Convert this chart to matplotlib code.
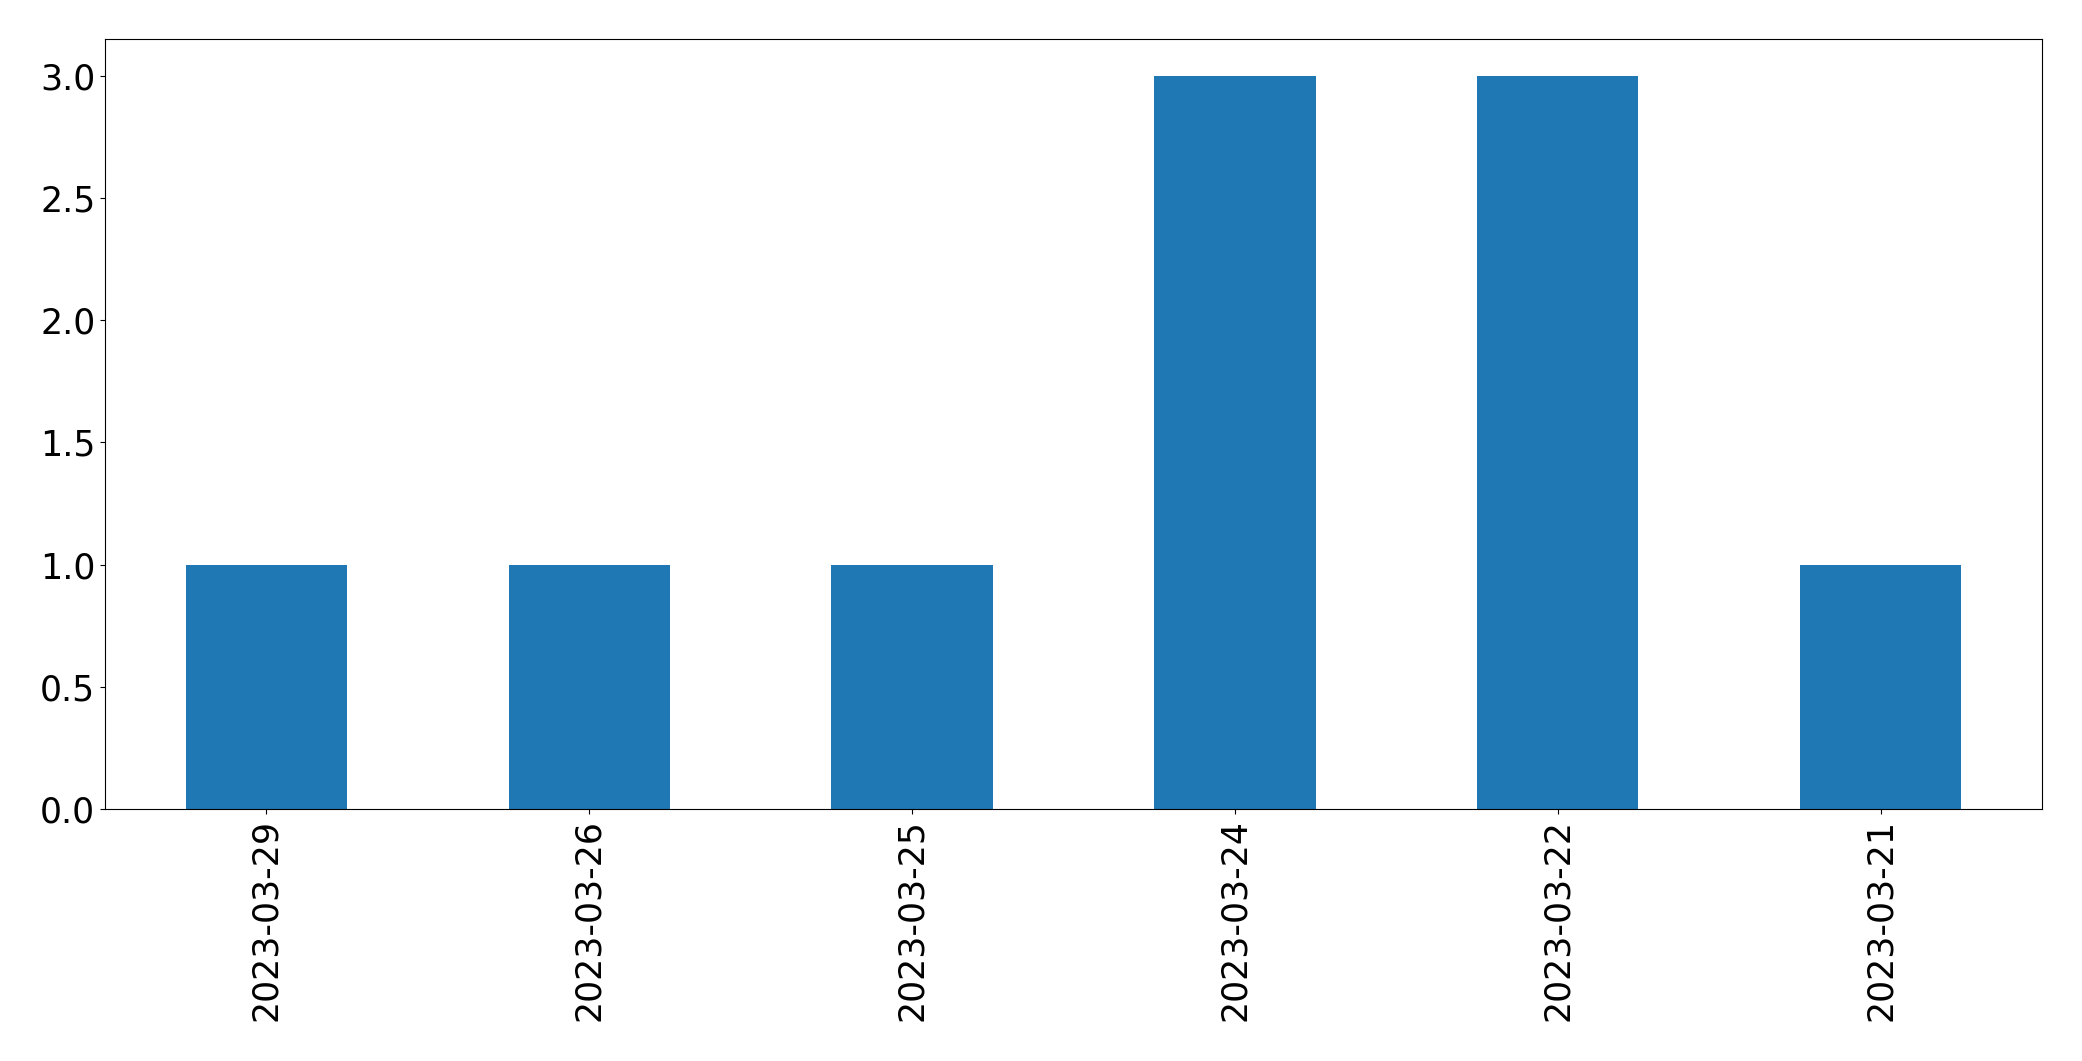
import matplotlib
matplotlib.use("Agg")
import matplotlib.pyplot as plt

dates = ["2023-03-29", "2023-03-26", "2023-03-25", "2023-03-24", "2023-03-22", "2023-03-21"]
counts = [1, 1, 1, 3, 3, 1]

fig = plt.figure(figsize=(20.82, 10.61), dpi=100)
ax = fig.add_axes([105/2082, 1 - 809/1061, (2042-105)/2082, (809-39)/1061])
x = list(range(len(dates)))
ax.bar(x, counts, width=0.5, color="#1f77b4")
ax.set_xlim(-0.5, len(dates) - 0.5)
ax.set_xticks(x)
ax.set_xticklabels(dates, rotation=90)
ax.set_yticks([0, 0.5, 1.0, 1.5, 2.0, 2.5, 3.0])
ax.set_ylim(0, 3.15)
ax.tick_params(labelsize=25)
fig.savefig("out.png", dpi=100)
